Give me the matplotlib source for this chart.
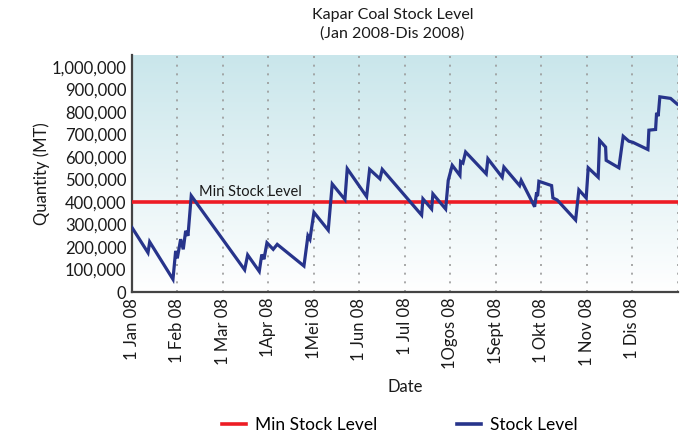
import matplotlib.pyplot as plt
import numpy as np
from matplotlib.colors import LinearSegmentedColormap
from matplotlib.lines import Line2D

plt.rcParams["font.family"] = ["Lato", "DejaVu Sans"]

# x positions in months since 1 Jan 2008 (each month drawn the same width)
month_pos = [
    0.0, 0.352, 0.389, 0.901, 0.960, 0.996, 1.070, 1.127, 1.180, 1.231,
    1.303, 2.477, 2.543, 2.798, 2.853, 2.901, 2.967, 3.105, 3.193, 3.780,
    3.868, 3.912, 4.000, 4.314, 4.402, 4.681, 4.732, 5.158, 5.224, 5.451,
    5.501, 6.367, 6.396, 6.587, 6.615, 6.895, 6.952, 7.040, 7.209, 7.224,
    7.275, 7.334, 7.787, 7.824, 8.138, 8.176, 8.521, 8.556, 8.851, 8.895,
    8.916, 8.945, 9.224, 9.253, 9.347, 9.752, 9.824, 9.985, 10.029, 10.248,
    10.279, 10.411, 10.424, 10.703, 10.798, 10.923, 11.011, 11.341, 11.363,
    11.510, 11.532, 11.567, 11.604, 11.840, 11.985,
]
stock = [
    287000, 175000, 223000, 57000, 183000, 150000, 235000, 190000, 272000, 250000,
    428000, 99000, 165000, 92000, 167000, 146000, 219000, 190000, 212000, 116000,
    250000, 235000, 354000, 275000, 480000, 411000, 548000, 424000, 545000, 503000,
    545000, 342000, 414000, 369000, 436000, 369000, 496000, 563000, 518000, 580000,
    573000, 622000, 525000, 592000, 510000, 555000, 473000, 496000, 379000, 443000,
    426000, 492000, 473000, 418000, 409000, 320000, 454000, 418000, 552000, 510000,
    674000, 644000, 585000, 552000, 692000, 670000, 665000, 633000, 719000,
    722000, 796000, 781000, 867000, 860000, 835000,
]
min_stock = 400000

month_labels = ["1 Jan 08", "1 Feb 08", "1 Mar 08", "1Apr 08", "1Mei 08", "1 Jun 08",
                "1 Jul 08", "1Ogos 08", "1Sept 08", "1 Okt 08", "1 Nov 08", "1 Dis 08"]
y_ticks = np.arange(0, 1000001, 100000)

fig = plt.figure(figsize=(6.91, 4.36), dpi=100)
ax = fig.add_axes([0.191, 0.330, 0.790, 0.544])

# soft teal-to-white background
cmap = LinearSegmentedColormap.from_list("bg", ["#ffffff", "#c9e6eb"])
grad = np.linspace(0, 1, 256).reshape(-1, 1)
ax.imshow(grad, cmap=cmap, aspect="auto", origin="lower",
          extent=[0, 1, 0, 1], transform=ax.transAxes, zorder=0)

ax.set_xlim(0, 12)
ax.set_ylim(0, 1053000)

for m in range(1, 13):
    ax.axvline(m, color="#9a9a9a", lw=1.2, ls=(0, (1.2, 4)), zorder=1)

ax.axhline(min_stock, color="#ed1c24", lw=2.6, zorder=3)
ax.plot(month_pos, stock, color="#27348b", lw=2.3, zorder=4, solid_joinstyle="miter")

ax.text(1.47, min_stock + 12000, "Min Stock Level", fontsize=10.5, color="#1a1a1a",
        ha="left", va="bottom", zorder=5)

ax.set_xticks(range(12))
ax.set_xticklabels(month_labels, rotation=90, fontsize=12, color="#1a1a1a")
ax.set_yticks(y_ticks)
ax.set_yticklabels([f"{v:,}" for v in y_ticks], fontsize=12, color="#1a1a1a")
ax.tick_params(axis="both", length=0, pad=4)

for s in ["top", "right"]:
    ax.spines[s].set_visible(False)
for s in ["left", "bottom"]:
    ax.spines[s].set_color("#444444")
    ax.spines[s].set_linewidth(1.6)

ax.set_ylabel("Quantity (MT)", fontsize=12, color="#1a1a1a", labelpad=1)
ax.set_xlabel("Date", fontsize=12, color="#1a1a1a", labelpad=7)

fig.text(0.568, 0.982, "Kapar Coal Stock Level\n(Jan 2008-Dis 2008)", ha="center", va="top",
         fontsize=11.5, color="#1a1a1a", linespacing=1.4)

handles = [Line2D([], [], color="#ed1c24", lw=2.6),
           Line2D([], [], color="#27348b", lw=2.6)]
fig.legend(handles, ["Min Stock Level", "Stock Level"], loc="center",
           bbox_to_anchor=(0.578, 0.025), ncol=2, frameon=False, fontsize=12.5,
           handlelength=1.4, columnspacing=4.6, handletextpad=0.5)

fig.savefig("out.png", dpi=100)
